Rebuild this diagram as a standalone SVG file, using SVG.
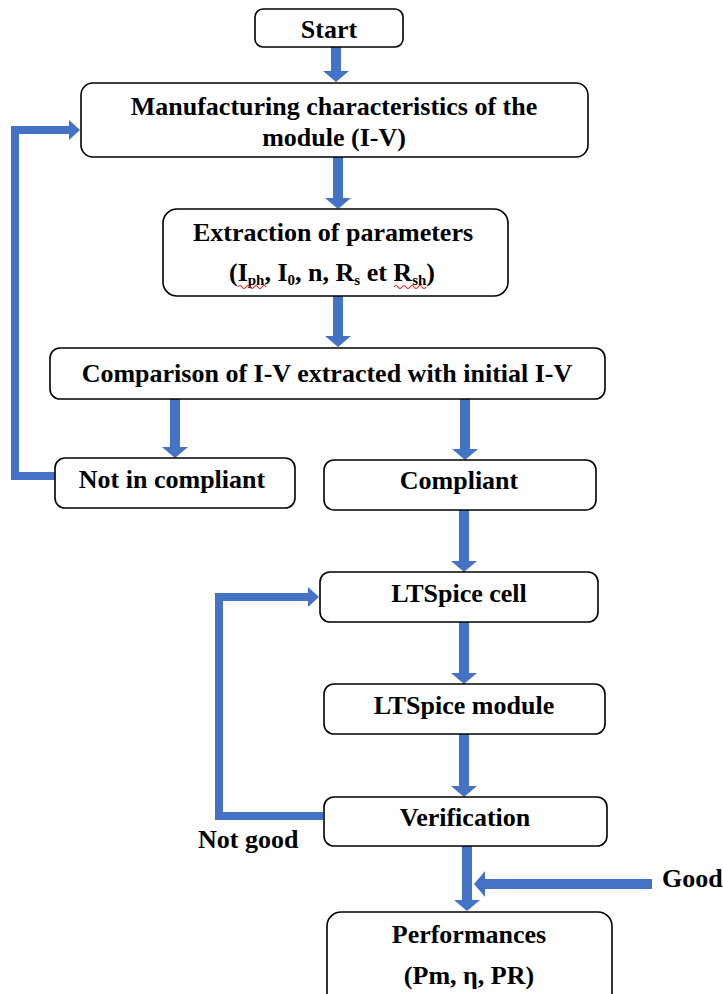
<svg xmlns="http://www.w3.org/2000/svg" width="723" height="994" viewBox="0 0 723 994">
<defs>
<style>
.box{fill:#fff;stroke:#000;stroke-width:1.6}
.t{font-family:"Liberation Serif","Times New Roman",serif;font-weight:bold;font-size:26px;fill:#000;text-anchor:middle}
.tl{font-family:"Liberation Serif","Times New Roman",serif;font-weight:bold;font-size:26px;fill:#000}
.sub{font-size:15px}
.c{fill:none;stroke:#4472C4;stroke-width:10}
.cs{fill:none;stroke:#4472C4;stroke-width:8}
.sq{fill:none;stroke:#e02020;stroke-width:1.2}
</style>
<marker id="ah" markerUnits="userSpaceOnUse" viewBox="0 0 11 26" refX="0" refY="13" markerWidth="11" markerHeight="26" orient="auto">
<path d="M0,0 L11,13 L0,26 Z" fill="#4472C4"/>
</marker>
<marker id="ahs" markerUnits="userSpaceOnUse" viewBox="0 0 11 20" refX="0" refY="10" markerWidth="11" markerHeight="20" orient="auto">
<path d="M0,0 L11,10 L0,20 Z" fill="#4472C4"/>
</marker>
</defs>
<rect width="723" height="994" fill="#fff"/>
<g id="connectors">
<path class="c" d="M336,47 V71" marker-end="url(#ah)"/>
<path class="c" d="M338,157 V198" marker-end="url(#ah)"/>
<path class="c" d="M338,296 V336" marker-end="url(#ah)"/>
<path class="c" d="M175,399 V447" marker-end="url(#ah)"/>
<path class="c" d="M465,399 V449" marker-end="url(#ah)"/>
<path class="cs" d="M55,476 H15 V130 H69" marker-end="url(#ahs)"/>
<path class="c" d="M464,510 V561" marker-end="url(#ah)"/>
<path class="c" d="M464,622 V673" marker-end="url(#ah)"/>
<path class="c" d="M464,734 V786" marker-end="url(#ah)"/>
<path class="cs" d="M323,816 H219 V597 H308" marker-end="url(#ahs)"/>
<path class="c" d="M467,846 V900" marker-end="url(#ah)"/>
<path class="c" d="M652,884 H485" marker-end="url(#ah)"/>
</g>
<g id="start"><rect class="box" x="255" y="9" width="148" height="38" rx="8"/><text class="t" x="329" y="38">Start</text></g>
<g id="manufacturing"><rect class="box" x="81" y="83" width="507" height="74" rx="12"/><text class="t" x="334" y="115">Manufacturing characteristics of the</text><text class="t" x="334" y="146">module (I-V)</text></g>
<g id="extraction"><rect class="box" x="163" y="209" width="345" height="87" rx="14"/><text class="t" x="333" y="241">Extraction of parameters</text>
<text class="t" x="332" y="281">(I<tspan class="sub" dy="4">ph</tspan><tspan dy="-4">, I</tspan><tspan class="sub" dy="4">0</tspan><tspan dy="-4">, n, R</tspan><tspan class="sub" dy="4">s</tspan><tspan dy="-4"> et R</tspan><tspan class="sub" dy="4">sh</tspan><tspan dy="-4">)</tspan></text>
<path class="sq" d="M238,287 q2,-3 4,0 t4,0 t4,0 t4,0 t4,0 t4,0 t4,0"/>
<path class="sq" d="M394,287 q2,-3 4,0 t4,0 t4,0 t4,0 t4,0 t4,0 t4,0 t4,0"/>
</g>
<g id="comparison"><rect class="box" x="50" y="348" width="555" height="51" rx="10"/><text class="t" x="327" y="382">Comparison of I-V extracted with initial I-V</text></g>
<g id="not-compliant"><rect class="box" x="55" y="458" width="240" height="50" rx="10"/><text class="t" x="172" y="488">Not in compliant</text></g>
<g id="compliant"><rect class="box" x="324" y="460" width="272" height="50" rx="10"/><text class="t" x="459" y="489">Compliant</text></g>
<g id="ltspice-cell"><rect class="box" x="320" y="572" width="278" height="50" rx="10"/><text class="t" x="459" y="602">LTSpice cell</text></g>
<g id="ltspice-module"><rect class="box" x="324" y="684" width="281" height="50" rx="10"/><text class="t" x="464" y="714">LTSpice module</text></g>
<g id="verification"><rect class="box" x="324" y="797" width="283" height="49" rx="10"/><text class="t" x="465" y="826">Verification</text></g>
<g id="performances"><rect class="box" x="327" y="912" width="285" height="100" rx="14"/><text class="t" x="469" y="943">Performances</text><text class="t" x="469" y="984">(Pm, η, PR)</text></g>
<g id="labels"><text class="tl" x="198" y="848">Not good</text><text class="tl" x="662" y="887">Good</text></g>
</svg>
